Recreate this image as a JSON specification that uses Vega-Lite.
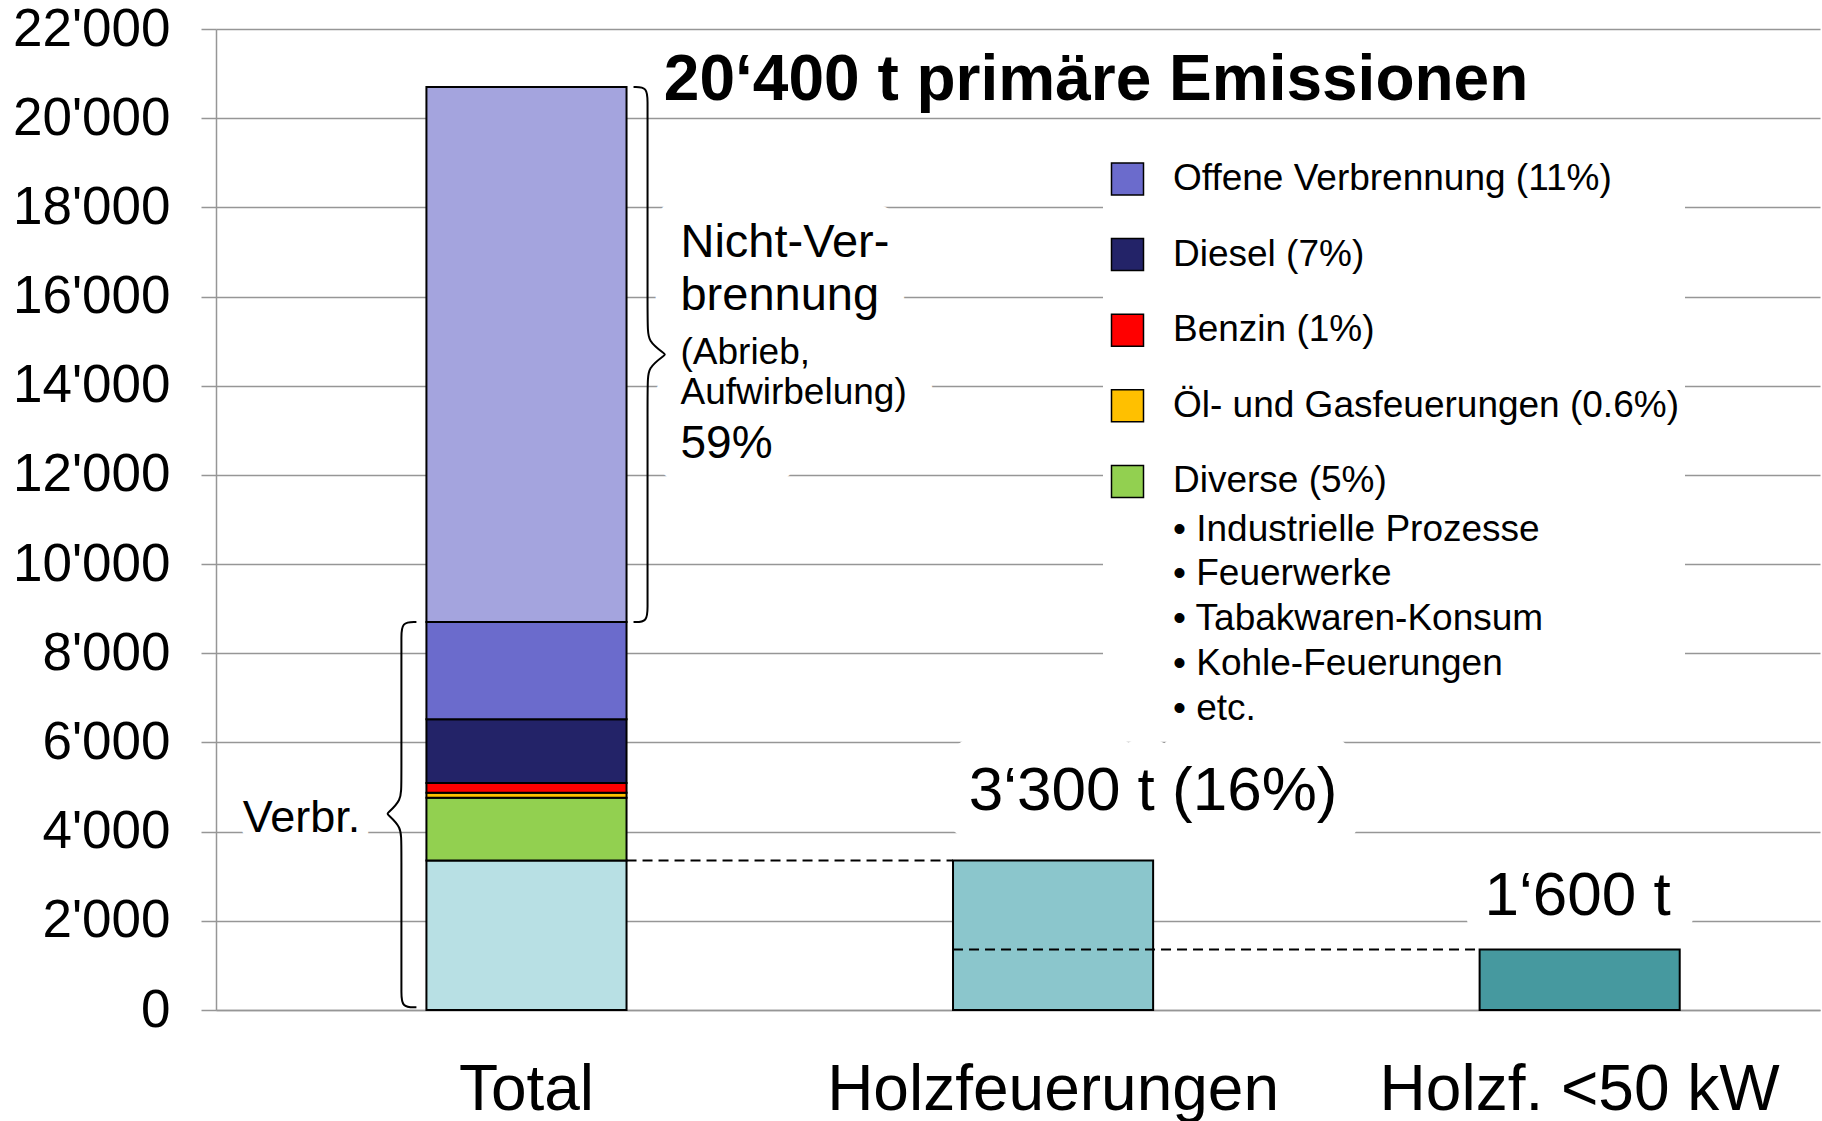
{
  "$schema": "https://vega.github.io/schema/vega-lite/v6.json",
  "width": 1604,
  "height": 981,
  "autosize": {"type": "none"},
  "padding": {"left": 216, "top": 29, "right": 2, "bottom": 111},
  "background": "white",
  "config": {
    "view": {"stroke": null},
    "font": "Liberation Sans",
    "text": {"font": "Liberation Sans"},
    "axis": {"labelFont": "Liberation Sans", "titleFont": "Liberation Sans"},
    "legend": {"labelFont": "Liberation Sans", "titleFont": "Liberation Sans"}
  },
  "resolve": {"scale": {"xOffset": "independent"}},
  "datasets": {
    "bars": [
      {"cat": "Total", "part": "Holzfeuerungen im Total", "low": 0, "high": 3350},
      {"cat": "Total", "part": "Diverse (5%)", "low": 3350, "high": 4760},
      {"cat": "Total", "part": "Öl- und Gasfeuerungen (0.6%)", "low": 4760, "high": 4870},
      {"cat": "Total", "part": "Benzin (1%)", "low": 4870, "high": 5090},
      {"cat": "Total", "part": "Diesel (7%)", "low": 5090, "high": 6520},
      {"cat": "Total", "part": "Offene Verbrennung (11%)", "low": 6520, "high": 8700},
      {"cat": "Total", "part": "Nicht-Verbrennung", "low": 8700, "high": 20700},
      {"cat": "Holzfeuerungen", "part": "Holzfeuerungen", "low": 0, "high": 3350},
      {"cat": "Holzf. <50 kW", "part": "Holzf. <50 kW", "low": 0, "high": 1355}
    ],
    "braces": [
      {"id": "r", "i": 1, "cat": "Total", "off": 1.035, "v": 20700},
      {"id": "r", "i": 2, "cat": "Total", "off": 1.105, "v": 20700},
      {"id": "r", "i": 3, "cat": "Total", "off": 1.105, "v": 20350},
      {"id": "r", "i": 4, "cat": "Total", "off": 1.105, "v": 20000},
      {"id": "r", "i": 5, "cat": "Total", "off": 1.105, "v": 15350},
      {"id": "r", "i": 6, "cat": "Total", "off": 1.105, "v": 15000},
      {"id": "r", "i": 7, "cat": "Total", "off": 1.195, "v": 14700},
      {"id": "r", "i": 8, "cat": "Total", "off": 1.195, "v": 14700},
      {"id": "r", "i": 9, "cat": "Total", "off": 1.105, "v": 14400},
      {"id": "r", "i": 10, "cat": "Total", "off": 1.105, "v": 14050},
      {"id": "r", "i": 11, "cat": "Total", "off": 1.105, "v": 9400},
      {"id": "r", "i": 12, "cat": "Total", "off": 1.105, "v": 9050},
      {"id": "r", "i": 13, "cat": "Total", "off": 1.105, "v": 8700},
      {"id": "r", "i": 14, "cat": "Total", "off": 1.035, "v": 8700},
      {"id": "l", "i": 1, "cat": "Total", "off": -0.05, "v": 8700},
      {"id": "l", "i": 2, "cat": "Total", "off": -0.125, "v": 8700},
      {"id": "l", "i": 3, "cat": "Total", "off": -0.125, "v": 8350},
      {"id": "l", "i": 4, "cat": "Total", "off": -0.125, "v": 8000},
      {"id": "l", "i": 5, "cat": "Total", "off": -0.125, "v": 5050},
      {"id": "l", "i": 6, "cat": "Total", "off": -0.125, "v": 4700},
      {"id": "l", "i": 7, "cat": "Total", "off": -0.197, "v": 4400},
      {"id": "l", "i": 8, "cat": "Total", "off": -0.197, "v": 4400},
      {"id": "l", "i": 9, "cat": "Total", "off": -0.125, "v": 4100},
      {"id": "l", "i": 10, "cat": "Total", "off": -0.125, "v": 3750},
      {"id": "l", "i": 11, "cat": "Total", "off": -0.125, "v": 760},
      {"id": "l", "i": 12, "cat": "Total", "off": -0.125, "v": 410},
      {"id": "l", "i": 13, "cat": "Total", "off": -0.125, "v": 60},
      {"id": "l", "i": 14, "cat": "Total", "off": -0.05, "v": 60}
    ],
    "dashes": [
      {"id": "d1", "i": 1, "cat": "Total", "off": 1.0, "v": 3350},
      {"id": "d1", "i": 2, "cat": "Holzfeuerungen", "off": 0.0, "v": 3350},
      {"id": "d2", "i": 1, "cat": "Holzfeuerungen", "off": 0.0, "v": 1355},
      {"id": "d2", "i": 2, "cat": "Holzf. <50 kW", "off": 0.0, "v": 1355}
    ],
    "tNicht": [{"t": ["Nicht-Ver-", "brennung"]}],
    "tAbrieb": [{"t": ["(Abrieb,", "Aufwirbelung)"]}],
    "t59": [{"t": "59%"}],
    "tVerbr": [{"t": "Verbr."}],
    "t3300": [{"t": "3‘300 t (16%)"}],
    "t1600": [{"t": "1‘600 t"}],
    "tTitle": [{"t": "20‘400 t primäre Emissionen"}]
  },
  "layer": [
    {
      "data": {"name": "bars"},
      "mark": {"type": "bar", "stroke": "black", "strokeWidth": 2},
      "encoding": {
        "x": {
          "field": "cat", "type": "nominal", "title": null,
          "scale": {"domain": ["Total", "Holzfeuerungen", "Holzf. <50 kW"], "paddingInner": 0.62, "paddingOuter": 0.333, "align": 0.6},
          "axis": {
            "orient": "bottom", "labelAngle": 0, "labelFontSize": 64, "labelColor": "black",
            "labelPadding": 48, "ticks": false, "tickSize": 0, "labelLimit": 1000, "labelOverlap": false,
            "domain": true, "domainColor": "#969696", "domainWidth": 1.5, "grid": false
          }
        },
        "y": {
          "field": "low", "type": "quantitative", "title": null,
          "scale": {"domain": [0, 22000], "nice": false, "zero": true},
          "axis": {
            "values": [0, 2000, 4000, 6000, 8000, 10000, 12000, 14000, 16000, 18000, 20000, 22000],
            "labelExpr": "replace(format(datum.value, ','), ',', \"'\")",
            "labelFontSize": 53, "labelColor": "black", "labelPadding": 31,
            "tickSize": 15, "tickColor": "#969696", "tickWidth": 1.5,
            "domainColor": "#969696", "domainWidth": 1.5,
            "grid": true, "gridColor": "#969696", "gridWidth": 1.5
          }
        },
        "y2": {"field": "high"},
        "color": {
          "field": "part", "type": "nominal",
          "scale": {
            "domain": ["Holzfeuerungen im Total", "Diverse (5%)", "Öl- und Gasfeuerungen (0.6%)", "Benzin (1%)", "Diesel (7%)", "Offene Verbrennung (11%)", "Nicht-Verbrennung", "Holzfeuerungen", "Holzf. <50 kW"],
            "range": ["#B8E0E4", "#92D050", "#FFC000", "#FF0000", "#232368", "#6B6BCC", "#A4A4DE", "#8BC6CC", "#46999F"]
          },
          "legend": {
            "values": ["Offene Verbrennung (11%)", "Diesel (7%)", "Benzin (1%)", "Öl- und Gasfeuerungen (0.6%)", "Diverse (5%)"],
            "orient": "none", "legendX": 887, "legendY": 125.5,
            "title": ["• Industrielle Prozesse", "• Feuerwerke", "• Tabakwaren-Konsum", "• Kohle-Feuerungen", "• etc."],
            "titleOrient": "bottom", "titleAnchor": "start", "titleAlign": "left",
            "titleFontSize": 37, "titleFontWeight": "normal", "titleColor": "black",
            "titleLineHeight": 44.75, "titlePadding": 11, "titleLimit": 1000,
            "symbolType": "square", "symbolSize": 1024, "symbolStrokeColor": "black", "symbolStrokeWidth": 1.5, "symbolOpacity": 1,
            "labelFontSize": 37, "labelColor": "black", "labelLimit": 1000, "labelOffset": 27,
            "rowPadding": 36.6, "padding": 6, "fillColor": "white",
            "encode": {"title": {"update": {"dx": {"value": 64}}}}
          }
        }
      }
    },
    {
      "data": {"name": "tNicht"},
      "mark": {"type": "text", "fontSize": 47, "lineHeight": 53.3, "align": "left", "baseline": "alphabetic", "dx": 154, "dy": 138.5, "fill": "white", "stroke": "white", "strokeWidth": 56, "strokeJoin": "round"},
      "encoding": {"x": {"datum": "Total", "type": "nominal"}, "y": {"datum": 20000, "type": "quantitative"}, "text": {"field": "t"}}
    },
    {
      "data": {"name": "tAbrieb"},
      "mark": {"type": "text", "fontSize": 37, "lineHeight": 40, "align": "left", "baseline": "alphabetic", "dx": 154, "dy": -21.4, "fill": "white", "stroke": "white", "strokeWidth": 56, "strokeJoin": "round"},
      "encoding": {"x": {"datum": "Total", "type": "nominal"}, "y": {"datum": 14000, "type": "quantitative"}, "text": {"field": "t"}}
    },
    {
      "data": {"name": "t59"},
      "mark": {"type": "text", "fontSize": 46, "align": "left", "baseline": "alphabetic", "dx": 154, "dy": -16.6, "fill": "white", "stroke": "white", "strokeWidth": 56, "strokeJoin": "round"},
      "encoding": {"x": {"datum": "Total", "type": "nominal"}, "y": {"datum": 12000, "type": "quantitative"}, "text": {"field": "t"}}
    },
    {
      "data": {"name": "tVerbr"},
      "mark": {"type": "text", "fontSize": 45, "align": "center", "baseline": "alphabetic", "dx": -225, "dy": 0, "fill": "white", "stroke": "white", "strokeWidth": 24, "strokeJoin": "round"},
      "encoding": {"x": {"datum": "Total", "type": "nominal"}, "y": {"datum": 4000, "type": "quantitative"}, "text": {"field": "t"}}
    },
    {
      "data": {"name": "t3300"},
      "mark": {"type": "text", "fontSize": 62, "align": "center", "baseline": "alphabetic", "dx": 100, "dy": -21.6, "fill": "white", "stroke": "white", "strokeWidth": 64, "strokeJoin": "round"},
      "encoding": {"x": {"datum": "Holzfeuerungen", "type": "nominal"}, "y": {"datum": 4000, "type": "quantitative"}, "text": {"field": "t"}}
    },
    {
      "data": {"name": "t1600"},
      "mark": {"type": "text", "fontSize": 62, "align": "center", "baseline": "alphabetic", "dx": -2, "dy": -5.8, "fill": "white", "stroke": "white", "strokeWidth": 46, "strokeJoin": "round"},
      "encoding": {"x": {"datum": "Holzf. <50 kW", "type": "nominal"}, "y": {"datum": 2000, "type": "quantitative"}, "text": {"field": "t"}}
    },
    {
      "data": {"name": "tNicht"},
      "mark": {"type": "text", "fontSize": 47, "lineHeight": 53.3, "align": "left", "baseline": "alphabetic", "dx": 154, "dy": 138.5, "fill": "black"},
      "encoding": {"x": {"datum": "Total", "type": "nominal"}, "y": {"datum": 20000, "type": "quantitative"}, "text": {"field": "t"}}
    },
    {
      "data": {"name": "tAbrieb"},
      "mark": {"type": "text", "fontSize": 37, "lineHeight": 40, "align": "left", "baseline": "alphabetic", "dx": 154, "dy": -21.4, "fill": "black"},
      "encoding": {"x": {"datum": "Total", "type": "nominal"}, "y": {"datum": 14000, "type": "quantitative"}, "text": {"field": "t"}}
    },
    {
      "data": {"name": "t59"},
      "mark": {"type": "text", "fontSize": 46, "align": "left", "baseline": "alphabetic", "dx": 154, "dy": -16.6, "fill": "black"},
      "encoding": {"x": {"datum": "Total", "type": "nominal"}, "y": {"datum": 12000, "type": "quantitative"}, "text": {"field": "t"}}
    },
    {
      "data": {"name": "tVerbr"},
      "mark": {"type": "text", "fontSize": 45, "align": "center", "baseline": "alphabetic", "dx": -225, "dy": 0, "fill": "black"},
      "encoding": {"x": {"datum": "Total", "type": "nominal"}, "y": {"datum": 4000, "type": "quantitative"}, "text": {"field": "t"}}
    },
    {
      "data": {"name": "t3300"},
      "mark": {"type": "text", "fontSize": 62, "align": "center", "baseline": "alphabetic", "dx": 100, "dy": -21.6, "fill": "black"},
      "encoding": {"x": {"datum": "Holzfeuerungen", "type": "nominal"}, "y": {"datum": 4000, "type": "quantitative"}, "text": {"field": "t"}}
    },
    {
      "data": {"name": "t1600"},
      "mark": {"type": "text", "fontSize": 62, "align": "center", "baseline": "alphabetic", "dx": -2, "dy": -5.8, "fill": "black"},
      "encoding": {"x": {"datum": "Holzf. <50 kW", "type": "nominal"}, "y": {"datum": 2000, "type": "quantitative"}, "text": {"field": "t"}}
    },
    {
      "data": {"name": "tTitle"},
      "mark": {"type": "text", "fontSize": 64, "fontWeight": "bold", "align": "center", "baseline": "alphabetic", "dx": 43, "dy": 71, "fill": "black"},
      "encoding": {"x": {"datum": "Holzfeuerungen", "type": "nominal"}, "y": {"datum": 22000, "type": "quantitative"}, "text": {"field": "t"}}
    },
    {
      "data": {"name": "braces"},
      "mark": {"type": "line", "interpolate": "basis", "stroke": "black", "strokeWidth": 2},
      "encoding": {
        "x": {"field": "cat", "type": "nominal", "title": null},
        "xOffset": {"field": "off", "type": "quantitative", "scale": {"domain": [0, 1], "nice": false, "zero": false}},
        "y": {"field": "v", "type": "quantitative", "title": null},
        "detail": {"field": "id"},
        "order": {"field": "i", "type": "quantitative"}
      }
    },
    {
      "data": {"name": "dashes"},
      "mark": {"type": "line", "stroke": "black", "strokeWidth": 2, "strokeDash": [10, 6]},
      "encoding": {
        "x": {"field": "cat", "type": "nominal", "title": null},
        "xOffset": {"field": "off", "type": "quantitative", "scale": {"domain": [0, 1], "nice": false, "zero": false}},
        "y": {"field": "v", "type": "quantitative", "title": null},
        "detail": {"field": "id"},
        "order": {"field": "i", "type": "quantitative"}
      }
    }
  ]
}
